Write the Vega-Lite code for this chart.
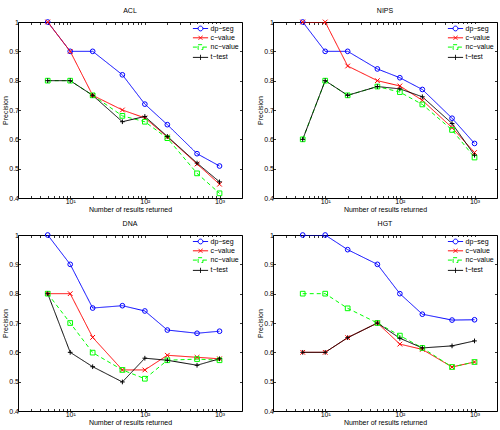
{
  "$schema": "https://vega.github.io/schema/vega-lite/v6.json",
  "padding": {"left": 0, "top": 6, "right": 0, "bottom": 0},
  "background": "white",
  "data": {
    "values": [
      {"dataset": "ACL", "series": "dp-seg", "n": 5, "precision": 1},
      {"dataset": "ACL", "series": "dp-seg", "n": 10, "precision": 0.9},
      {"dataset": "ACL", "series": "dp-seg", "n": 20, "precision": 0.9},
      {"dataset": "ACL", "series": "dp-seg", "n": 50, "precision": 0.82},
      {"dataset": "ACL", "series": "dp-seg", "n": 100, "precision": 0.72},
      {"dataset": "ACL", "series": "dp-seg", "n": 200, "precision": 0.65},
      {"dataset": "ACL", "series": "dp-seg", "n": 500, "precision": 0.551},
      {"dataset": "ACL", "series": "dp-seg", "n": 1000, "precision": 0.509},
      {"dataset": "ACL", "series": "c-value", "n": 5, "precision": 1},
      {"dataset": "ACL", "series": "c-value", "n": 10, "precision": 0.9},
      {"dataset": "ACL", "series": "c-value", "n": 20, "precision": 0.75},
      {"dataset": "ACL", "series": "c-value", "n": 50, "precision": 0.7},
      {"dataset": "ACL", "series": "c-value", "n": 100, "precision": 0.673},
      {"dataset": "ACL", "series": "c-value", "n": 200, "precision": 0.608},
      {"dataset": "ACL", "series": "c-value", "n": 500, "precision": 0.516},
      {"dataset": "ACL", "series": "c-value", "n": 1000, "precision": 0.447},
      {"dataset": "ACL", "series": "nc-value", "n": 5, "precision": 0.8},
      {"dataset": "ACL", "series": "nc-value", "n": 10, "precision": 0.8},
      {"dataset": "ACL", "series": "nc-value", "n": 20, "precision": 0.75},
      {"dataset": "ACL", "series": "nc-value", "n": 50, "precision": 0.68},
      {"dataset": "ACL", "series": "nc-value", "n": 100, "precision": 0.66},
      {"dataset": "ACL", "series": "nc-value", "n": 200, "precision": 0.604},
      {"dataset": "ACL", "series": "nc-value", "n": 500, "precision": 0.484},
      {"dataset": "ACL", "series": "nc-value", "n": 1000, "precision": 0.416},
      {"dataset": "ACL", "series": "t-test", "n": 5, "precision": 0.8},
      {"dataset": "ACL", "series": "t-test", "n": 10, "precision": 0.8},
      {"dataset": "ACL", "series": "t-test", "n": 20, "precision": 0.75},
      {"dataset": "ACL", "series": "t-test", "n": 50, "precision": 0.66},
      {"dataset": "ACL", "series": "t-test", "n": 100, "precision": 0.678},
      {"dataset": "ACL", "series": "t-test", "n": 200, "precision": 0.61},
      {"dataset": "ACL", "series": "t-test", "n": 500, "precision": 0.519},
      {"dataset": "ACL", "series": "t-test", "n": 1000, "precision": 0.455},

      {"dataset": "NIPS", "series": "dp-seg", "n": 5, "precision": 1},
      {"dataset": "NIPS", "series": "dp-seg", "n": 10, "precision": 0.9},
      {"dataset": "NIPS", "series": "dp-seg", "n": 20, "precision": 0.9},
      {"dataset": "NIPS", "series": "dp-seg", "n": 50, "precision": 0.84},
      {"dataset": "NIPS", "series": "dp-seg", "n": 100, "precision": 0.81},
      {"dataset": "NIPS", "series": "dp-seg", "n": 200, "precision": 0.77},
      {"dataset": "NIPS", "series": "dp-seg", "n": 500, "precision": 0.672},
      {"dataset": "NIPS", "series": "dp-seg", "n": 1000, "precision": 0.586},
      {"dataset": "NIPS", "series": "c-value", "n": 5, "precision": 1},
      {"dataset": "NIPS", "series": "c-value", "n": 10, "precision": 1},
      {"dataset": "NIPS", "series": "c-value", "n": 20, "precision": 0.85},
      {"dataset": "NIPS", "series": "c-value", "n": 50, "precision": 0.8},
      {"dataset": "NIPS", "series": "c-value", "n": 100, "precision": 0.782},
      {"dataset": "NIPS", "series": "c-value", "n": 200, "precision": 0.733},
      {"dataset": "NIPS", "series": "c-value", "n": 500, "precision": 0.64},
      {"dataset": "NIPS", "series": "c-value", "n": 1000, "precision": 0.555},
      {"dataset": "NIPS", "series": "nc-value", "n": 5, "precision": 0.6},
      {"dataset": "NIPS", "series": "nc-value", "n": 10, "precision": 0.8},
      {"dataset": "NIPS", "series": "nc-value", "n": 20, "precision": 0.75},
      {"dataset": "NIPS", "series": "nc-value", "n": 50, "precision": 0.78},
      {"dataset": "NIPS", "series": "nc-value", "n": 100, "precision": 0.761},
      {"dataset": "NIPS", "series": "nc-value", "n": 200, "precision": 0.719},
      {"dataset": "NIPS", "series": "nc-value", "n": 500, "precision": 0.632},
      {"dataset": "NIPS", "series": "nc-value", "n": 1000, "precision": 0.538},
      {"dataset": "NIPS", "series": "t-test", "n": 5, "precision": 0.6},
      {"dataset": "NIPS", "series": "t-test", "n": 10, "precision": 0.8},
      {"dataset": "NIPS", "series": "t-test", "n": 20, "precision": 0.75},
      {"dataset": "NIPS", "series": "t-test", "n": 50, "precision": 0.78},
      {"dataset": "NIPS", "series": "t-test", "n": 100, "precision": 0.772},
      {"dataset": "NIPS", "series": "t-test", "n": 200, "precision": 0.745},
      {"dataset": "NIPS", "series": "t-test", "n": 500, "precision": 0.654},
      {"dataset": "NIPS", "series": "t-test", "n": 1000, "precision": 0.546},

      {"dataset": "DNA", "series": "dp-seg", "n": 5, "precision": 1},
      {"dataset": "DNA", "series": "dp-seg", "n": 10, "precision": 0.9},
      {"dataset": "DNA", "series": "dp-seg", "n": 20, "precision": 0.751},
      {"dataset": "DNA", "series": "dp-seg", "n": 50, "precision": 0.759},
      {"dataset": "DNA", "series": "dp-seg", "n": 100, "precision": 0.741},
      {"dataset": "DNA", "series": "dp-seg", "n": 200, "precision": 0.676},
      {"dataset": "DNA", "series": "dp-seg", "n": 500, "precision": 0.665},
      {"dataset": "DNA", "series": "dp-seg", "n": 1000, "precision": 0.672},
      {"dataset": "DNA", "series": "c-value", "n": 5, "precision": 0.8},
      {"dataset": "DNA", "series": "c-value", "n": 10, "precision": 0.8},
      {"dataset": "DNA", "series": "c-value", "n": 20, "precision": 0.651},
      {"dataset": "DNA", "series": "c-value", "n": 50, "precision": 0.54},
      {"dataset": "DNA", "series": "c-value", "n": 100, "precision": 0.54},
      {"dataset": "DNA", "series": "c-value", "n": 200, "precision": 0.59},
      {"dataset": "DNA", "series": "c-value", "n": 500, "precision": 0.583},
      {"dataset": "DNA", "series": "c-value", "n": 1000, "precision": 0.578},
      {"dataset": "DNA", "series": "nc-value", "n": 5, "precision": 0.8},
      {"dataset": "DNA", "series": "nc-value", "n": 10, "precision": 0.7},
      {"dataset": "DNA", "series": "nc-value", "n": 20, "precision": 0.599},
      {"dataset": "DNA", "series": "nc-value", "n": 50, "precision": 0.54},
      {"dataset": "DNA", "series": "nc-value", "n": 100, "precision": 0.51},
      {"dataset": "DNA", "series": "nc-value", "n": 200, "precision": 0.573},
      {"dataset": "DNA", "series": "nc-value", "n": 500, "precision": 0.577},
      {"dataset": "DNA", "series": "nc-value", "n": 1000, "precision": 0.573},
      {"dataset": "DNA", "series": "t-test", "n": 5, "precision": 0.8},
      {"dataset": "DNA", "series": "t-test", "n": 10, "precision": 0.6},
      {"dataset": "DNA", "series": "t-test", "n": 20, "precision": 0.551},
      {"dataset": "DNA", "series": "t-test", "n": 50, "precision": 0.499},
      {"dataset": "DNA", "series": "t-test", "n": 100, "precision": 0.58},
      {"dataset": "DNA", "series": "t-test", "n": 200, "precision": 0.573},
      {"dataset": "DNA", "series": "t-test", "n": 500, "precision": 0.556},
      {"dataset": "DNA", "series": "t-test", "n": 1000, "precision": 0.578},

      {"dataset": "HGT", "series": "dp-seg", "n": 5, "precision": 1},
      {"dataset": "HGT", "series": "dp-seg", "n": 10, "precision": 1},
      {"dataset": "HGT", "series": "dp-seg", "n": 20, "precision": 0.95},
      {"dataset": "HGT", "series": "dp-seg", "n": 50, "precision": 0.9},
      {"dataset": "HGT", "series": "dp-seg", "n": 100, "precision": 0.8},
      {"dataset": "HGT", "series": "dp-seg", "n": 200, "precision": 0.73},
      {"dataset": "HGT", "series": "dp-seg", "n": 500, "precision": 0.71},
      {"dataset": "HGT", "series": "dp-seg", "n": 1000, "precision": 0.711},
      {"dataset": "HGT", "series": "c-value", "n": 5, "precision": 0.6},
      {"dataset": "HGT", "series": "c-value", "n": 10, "precision": 0.6},
      {"dataset": "HGT", "series": "c-value", "n": 20, "precision": 0.65},
      {"dataset": "HGT", "series": "c-value", "n": 50, "precision": 0.7},
      {"dataset": "HGT", "series": "c-value", "n": 100, "precision": 0.628},
      {"dataset": "HGT", "series": "c-value", "n": 200, "precision": 0.61},
      {"dataset": "HGT", "series": "c-value", "n": 500, "precision": 0.55},
      {"dataset": "HGT", "series": "c-value", "n": 1000, "precision": 0.567},
      {"dataset": "HGT", "series": "nc-value", "n": 5, "precision": 0.8},
      {"dataset": "HGT", "series": "nc-value", "n": 10, "precision": 0.8},
      {"dataset": "HGT", "series": "nc-value", "n": 20, "precision": 0.75},
      {"dataset": "HGT", "series": "nc-value", "n": 50, "precision": 0.7},
      {"dataset": "HGT", "series": "nc-value", "n": 100, "precision": 0.657},
      {"dataset": "HGT", "series": "nc-value", "n": 200, "precision": 0.615},
      {"dataset": "HGT", "series": "nc-value", "n": 500, "precision": 0.55},
      {"dataset": "HGT", "series": "nc-value", "n": 1000, "precision": 0.567},
      {"dataset": "HGT", "series": "t-test", "n": 5, "precision": 0.6},
      {"dataset": "HGT", "series": "t-test", "n": 10, "precision": 0.6},
      {"dataset": "HGT", "series": "t-test", "n": 20, "precision": 0.65},
      {"dataset": "HGT", "series": "t-test", "n": 50, "precision": 0.7},
      {"dataset": "HGT", "series": "t-test", "n": 100, "precision": 0.648},
      {"dataset": "HGT", "series": "t-test", "n": 200, "precision": 0.615},
      {"dataset": "HGT", "series": "t-test", "n": 500, "precision": 0.622},
      {"dataset": "HGT", "series": "t-test", "n": 1000, "precision": 0.639}
    ]
  },
  "columns": 2,
  "bounds": "flush",
  "spacing": {"row": 37, "column": 31},
  "resolve": {
    "scale": {"color": "independent", "strokeDash": "independent", "shape": "independent"},
    "legend": {"color": "independent", "strokeDash": "independent", "shape": "independent"}
  },
  "concat": [
    {
      "title": "ACL",
      "width": 224, "height": 176,
      "transform": [{"filter": "datum.dataset === 'ACL'"}],
      "resolve": {"axis": {"x": "independent", "y": "independent"}},
      "layer": [
        {
          "mark": {"type": "line", "strokeWidth": 1, "clip": true},
          "encoding": {
            "x": {"field": "n", "type": "quantitative", "scale": {"type": "log", "domain": [2, 2000], "nice": false}, "axis": {"orient": "bottom", "title": "Number of results returned", "values": [3,4,5,6,7,8,9,10,20,30,40,50,60,70,80,90,100,200,300,400,500,600,700,800,900,1000], "labelExpr": "datum.value == 10 ? '10¹' : datum.value == 100 ? '10²' : datum.value == 1000 ? '10³' : ''", "labelOverlap": false, "labelFlush": false}},
            "y": {"field": "precision", "type": "quantitative", "scale": {"domain": [0.4, 1], "nice": false, "zero": false}, "axis": {"orient": "left", "title": "Precision", "values": [0.4,0.5,0.6,0.7,0.8,0.9,1], "format": ".1~f"}},
            "color": {"field": "series", "type": "nominal", "scale": {"domain": ["dp-seg", "c-value", "nc-value", "t-test"], "range": ["#0000ff", "#ff0000", "#00ff00", "#000000"]},
              "legend": {"title": null, "orient": "none", "legendX": 174, "legendY": 2, "padding": 0, "fillColor": "white", "symbolType": "M-1.9,0H1.9", "symbolSize": 64, "symbolStrokeWidth": 1, "symbolOffset": 4, "labelOffset": 5.5, "rowPadding": 0.3, "labelFontSize": 7, "labelColor": "black", "labelExpr": "replace(datum.label, '-', '−')",
                "encoding": {"symbols": {"fill": {"value": "transparent"}, "shape": {"condition": [
                  {"test": "datum.value === 'dp-seg'", "value": "M-1.9,0H-0.6M0.6,0H1.9M0.6,0A0.6,0.6 0 1,1 -0.6,0A0.6,0.6 0 1,1 0.6,0"},
                  {"test": "datum.value === 'c-value'", "value": "M-1.9,0H1.9M-0.5,-0.5L0.5,0.5M-0.5,0.5L0.5,-0.5"},
                  {"test": "datum.value === 'nc-value'", "value": "M-1.9,0H-0.6M0.6,0H1.9M-0.6,-0.6H0.6V0.6H-0.6Z"}],
                  "value": "M-1.9,0H1.9M0,-0.65V0.65"}}}}},
            "strokeDash": {"field": "series", "type": "nominal", "scale": {"domain": ["dp-seg", "c-value", "nc-value", "t-test"], "range": [[1, 0], [1, 0], [4, 3], [1, 0]]}}
          }
        },
        {
          "mark": {"type": "point", "filled": false, "size": 22, "strokeWidth": 1, "opacity": 1},
          "encoding": {
            "x": {"field": "n", "type": "quantitative", "scale": {"type": "log", "domain": [2, 2000], "nice": false}, "axis": {"orient": "top", "title": null, "labels": false, "values": [3,4,5,6,7,8,9,10,20,30,40,50,60,70,80,90,100,200,300,400,500,600,700,800,900,1000]}},
            "y": {"field": "precision", "type": "quantitative", "scale": {"domain": [0.4, 1], "nice": false, "zero": false}, "axis": {"orient": "right", "title": null, "labels": false, "values": [0.4,0.5,0.6,0.7,0.8,0.9,1]}},
            "color": {"field": "series", "type": "nominal", "scale": {"domain": ["dp-seg", "c-value", "nc-value", "t-test"], "range": ["#0000ff", "#ff0000", "#00ff00", "#000000"]}},
            "shape": {"field": "series", "type": "nominal", "legend": null, "scale": {"domain": ["t-test", "nc-value", "c-value", "dp-seg"], "range": ["M-1,0H1M0,-1V1", "square", "M-1,-1L1,1M-1,1L1,-1", "circle"]}}
          }
        }
      ]
    },
    {
      "title": "NIPS",
      "width": 224, "height": 176,
      "transform": [{"filter": "datum.dataset === 'NIPS'"}],
      "resolve": {"axis": {"x": "independent", "y": "independent"}},
      "layer": [
        {
          "mark": {"type": "line", "strokeWidth": 1, "clip": true},
          "encoding": {
            "x": {"field": "n", "type": "quantitative", "scale": {"type": "log", "domain": [2, 2000], "nice": false}, "axis": {"orient": "bottom", "title": "Number of results returned", "values": [3,4,5,6,7,8,9,10,20,30,40,50,60,70,80,90,100,200,300,400,500,600,700,800,900,1000], "labelExpr": "datum.value == 10 ? '10¹' : datum.value == 100 ? '10²' : datum.value == 1000 ? '10³' : ''", "labelOverlap": false, "labelFlush": false}},
            "y": {"field": "precision", "type": "quantitative", "scale": {"domain": [0.4, 1], "nice": false, "zero": false}, "axis": {"orient": "left", "title": "Precision", "values": [0.4,0.5,0.6,0.7,0.8,0.9,1], "format": ".1~f"}},
            "color": {"field": "series", "type": "nominal", "scale": {"domain": ["dp-seg", "c-value", "nc-value", "t-test"], "range": ["#0000ff", "#ff0000", "#00ff00", "#000000"]},
              "legend": {"title": null, "orient": "none", "legendX": 174, "legendY": 2, "padding": 0, "fillColor": "white", "symbolType": "M-1.9,0H1.9", "symbolSize": 64, "symbolStrokeWidth": 1, "symbolOffset": 4, "labelOffset": 5.5, "rowPadding": 0.3, "labelFontSize": 7, "labelColor": "black", "labelExpr": "replace(datum.label, '-', '−')",
                "encoding": {"symbols": {"fill": {"value": "transparent"}, "shape": {"condition": [
                  {"test": "datum.value === 'dp-seg'", "value": "M-1.9,0H-0.6M0.6,0H1.9M0.6,0A0.6,0.6 0 1,1 -0.6,0A0.6,0.6 0 1,1 0.6,0"},
                  {"test": "datum.value === 'c-value'", "value": "M-1.9,0H1.9M-0.5,-0.5L0.5,0.5M-0.5,0.5L0.5,-0.5"},
                  {"test": "datum.value === 'nc-value'", "value": "M-1.9,0H-0.6M0.6,0H1.9M-0.6,-0.6H0.6V0.6H-0.6Z"}],
                  "value": "M-1.9,0H1.9M0,-0.65V0.65"}}}}},
            "strokeDash": {"field": "series", "type": "nominal", "scale": {"domain": ["dp-seg", "c-value", "nc-value", "t-test"], "range": [[1, 0], [1, 0], [4, 3], [1, 0]]}}
          }
        },
        {
          "mark": {"type": "point", "filled": false, "size": 22, "strokeWidth": 1, "opacity": 1},
          "encoding": {
            "x": {"field": "n", "type": "quantitative", "scale": {"type": "log", "domain": [2, 2000], "nice": false}, "axis": {"orient": "top", "title": null, "labels": false, "values": [3,4,5,6,7,8,9,10,20,30,40,50,60,70,80,90,100,200,300,400,500,600,700,800,900,1000]}},
            "y": {"field": "precision", "type": "quantitative", "scale": {"domain": [0.4, 1], "nice": false, "zero": false}, "axis": {"orient": "right", "title": null, "labels": false, "values": [0.4,0.5,0.6,0.7,0.8,0.9,1]}},
            "color": {"field": "series", "type": "nominal", "scale": {"domain": ["dp-seg", "c-value", "nc-value", "t-test"], "range": ["#0000ff", "#ff0000", "#00ff00", "#000000"]}},
            "shape": {"field": "series", "type": "nominal", "legend": null, "scale": {"domain": ["t-test", "nc-value", "c-value", "dp-seg"], "range": ["M-1,0H1M0,-1V1", "square", "M-1,-1L1,1M-1,1L1,-1", "circle"]}}
          }
        }
      ]
    },
    {
      "title": "DNA",
      "width": 224, "height": 176,
      "transform": [{"filter": "datum.dataset === 'DNA'"}],
      "resolve": {"axis": {"x": "independent", "y": "independent"}},
      "layer": [
        {
          "mark": {"type": "line", "strokeWidth": 1, "clip": true},
          "encoding": {
            "x": {"field": "n", "type": "quantitative", "scale": {"type": "log", "domain": [2, 2000], "nice": false}, "axis": {"orient": "bottom", "title": "Number of results returned", "values": [3,4,5,6,7,8,9,10,20,30,40,50,60,70,80,90,100,200,300,400,500,600,700,800,900,1000], "labelExpr": "datum.value == 10 ? '10¹' : datum.value == 100 ? '10²' : datum.value == 1000 ? '10³' : ''", "labelOverlap": false, "labelFlush": false}},
            "y": {"field": "precision", "type": "quantitative", "scale": {"domain": [0.4, 1], "nice": false, "zero": false}, "axis": {"orient": "left", "title": "Precision", "values": [0.4,0.5,0.6,0.7,0.8,0.9,1], "format": ".1~f"}},
            "color": {"field": "series", "type": "nominal", "scale": {"domain": ["dp-seg", "c-value", "nc-value", "t-test"], "range": ["#0000ff", "#ff0000", "#00ff00", "#000000"]},
              "legend": {"title": null, "orient": "none", "legendX": 174, "legendY": 2, "padding": 0, "fillColor": "white", "symbolType": "M-1.9,0H1.9", "symbolSize": 64, "symbolStrokeWidth": 1, "symbolOffset": 4, "labelOffset": 5.5, "rowPadding": 0.3, "labelFontSize": 7, "labelColor": "black", "labelExpr": "replace(datum.label, '-', '−')",
                "encoding": {"symbols": {"fill": {"value": "transparent"}, "shape": {"condition": [
                  {"test": "datum.value === 'dp-seg'", "value": "M-1.9,0H-0.6M0.6,0H1.9M0.6,0A0.6,0.6 0 1,1 -0.6,0A0.6,0.6 0 1,1 0.6,0"},
                  {"test": "datum.value === 'c-value'", "value": "M-1.9,0H1.9M-0.5,-0.5L0.5,0.5M-0.5,0.5L0.5,-0.5"},
                  {"test": "datum.value === 'nc-value'", "value": "M-1.9,0H-0.6M0.6,0H1.9M-0.6,-0.6H0.6V0.6H-0.6Z"}],
                  "value": "M-1.9,0H1.9M0,-0.65V0.65"}}}}},
            "strokeDash": {"field": "series", "type": "nominal", "scale": {"domain": ["dp-seg", "c-value", "nc-value", "t-test"], "range": [[1, 0], [1, 0], [4, 3], [1, 0]]}}
          }
        },
        {
          "mark": {"type": "point", "filled": false, "size": 22, "strokeWidth": 1, "opacity": 1},
          "encoding": {
            "x": {"field": "n", "type": "quantitative", "scale": {"type": "log", "domain": [2, 2000], "nice": false}, "axis": {"orient": "top", "title": null, "labels": false, "values": [3,4,5,6,7,8,9,10,20,30,40,50,60,70,80,90,100,200,300,400,500,600,700,800,900,1000]}},
            "y": {"field": "precision", "type": "quantitative", "scale": {"domain": [0.4, 1], "nice": false, "zero": false}, "axis": {"orient": "right", "title": null, "labels": false, "values": [0.4,0.5,0.6,0.7,0.8,0.9,1]}},
            "color": {"field": "series", "type": "nominal", "scale": {"domain": ["dp-seg", "c-value", "nc-value", "t-test"], "range": ["#0000ff", "#ff0000", "#00ff00", "#000000"]}},
            "shape": {"field": "series", "type": "nominal", "legend": null, "scale": {"domain": ["t-test", "nc-value", "c-value", "dp-seg"], "range": ["M-1,0H1M0,-1V1", "square", "M-1,-1L1,1M-1,1L1,-1", "circle"]}}
          }
        }
      ]
    },
    {
      "title": "HGT",
      "width": 224, "height": 176,
      "transform": [{"filter": "datum.dataset === 'HGT'"}],
      "resolve": {"axis": {"x": "independent", "y": "independent"}},
      "layer": [
        {
          "mark": {"type": "line", "strokeWidth": 1, "clip": true},
          "encoding": {
            "x": {"field": "n", "type": "quantitative", "scale": {"type": "log", "domain": [2, 2000], "nice": false}, "axis": {"orient": "bottom", "title": "Number of results returned", "values": [3,4,5,6,7,8,9,10,20,30,40,50,60,70,80,90,100,200,300,400,500,600,700,800,900,1000], "labelExpr": "datum.value == 10 ? '10¹' : datum.value == 100 ? '10²' : datum.value == 1000 ? '10³' : ''", "labelOverlap": false, "labelFlush": false}},
            "y": {"field": "precision", "type": "quantitative", "scale": {"domain": [0.4, 1], "nice": false, "zero": false}, "axis": {"orient": "left", "title": "Precision", "values": [0.4,0.5,0.6,0.7,0.8,0.9,1], "format": ".1~f"}},
            "color": {"field": "series", "type": "nominal", "scale": {"domain": ["dp-seg", "c-value", "nc-value", "t-test"], "range": ["#0000ff", "#ff0000", "#00ff00", "#000000"]},
              "legend": {"title": null, "orient": "none", "legendX": 174, "legendY": 2, "padding": 0, "fillColor": "white", "symbolType": "M-1.9,0H1.9", "symbolSize": 64, "symbolStrokeWidth": 1, "symbolOffset": 4, "labelOffset": 5.5, "rowPadding": 0.3, "labelFontSize": 7, "labelColor": "black", "labelExpr": "replace(datum.label, '-', '−')",
                "encoding": {"symbols": {"fill": {"value": "transparent"}, "shape": {"condition": [
                  {"test": "datum.value === 'dp-seg'", "value": "M-1.9,0H-0.6M0.6,0H1.9M0.6,0A0.6,0.6 0 1,1 -0.6,0A0.6,0.6 0 1,1 0.6,0"},
                  {"test": "datum.value === 'c-value'", "value": "M-1.9,0H1.9M-0.5,-0.5L0.5,0.5M-0.5,0.5L0.5,-0.5"},
                  {"test": "datum.value === 'nc-value'", "value": "M-1.9,0H-0.6M0.6,0H1.9M-0.6,-0.6H0.6V0.6H-0.6Z"}],
                  "value": "M-1.9,0H1.9M0,-0.65V0.65"}}}}},
            "strokeDash": {"field": "series", "type": "nominal", "scale": {"domain": ["dp-seg", "c-value", "nc-value", "t-test"], "range": [[1, 0], [1, 0], [4, 3], [1, 0]]}}
          }
        },
        {
          "mark": {"type": "point", "filled": false, "size": 22, "strokeWidth": 1, "opacity": 1},
          "encoding": {
            "x": {"field": "n", "type": "quantitative", "scale": {"type": "log", "domain": [2, 2000], "nice": false}, "axis": {"orient": "top", "title": null, "labels": false, "values": [3,4,5,6,7,8,9,10,20,30,40,50,60,70,80,90,100,200,300,400,500,600,700,800,900,1000]}},
            "y": {"field": "precision", "type": "quantitative", "scale": {"domain": [0.4, 1], "nice": false, "zero": false}, "axis": {"orient": "right", "title": null, "labels": false, "values": [0.4,0.5,0.6,0.7,0.8,0.9,1]}},
            "color": {"field": "series", "type": "nominal", "scale": {"domain": ["dp-seg", "c-value", "nc-value", "t-test"], "range": ["#0000ff", "#ff0000", "#00ff00", "#000000"]}},
            "shape": {"field": "series", "type": "nominal", "legend": null, "scale": {"domain": ["t-test", "nc-value", "c-value", "dp-seg"], "range": ["M-1,0H1M0,-1V1", "square", "M-1,-1L1,1M-1,1L1,-1", "circle"]}}
          }
        }
      ]
    }
  ],
  "config": {
    "font": "Liberation Sans",
    "view": {"stroke": "black", "strokeWidth": 1},
    "axis": {"labelFontSize": 7, "titleFontSize": 7, "labelColor": "black", "titleColor": "black", "titleFontWeight": "normal", "grid": false, "domain": false, "tickColor": "black", "tickSize": -2.5, "tickWidth": 0.8, "labelPadding": 2, "titlePadding": 0.5},
    "title": {"fontSize": 7, "fontWeight": "normal", "color": "black", "offset": 4},
    "legend": {"labelFont": "Liberation Sans"}
  }
}
